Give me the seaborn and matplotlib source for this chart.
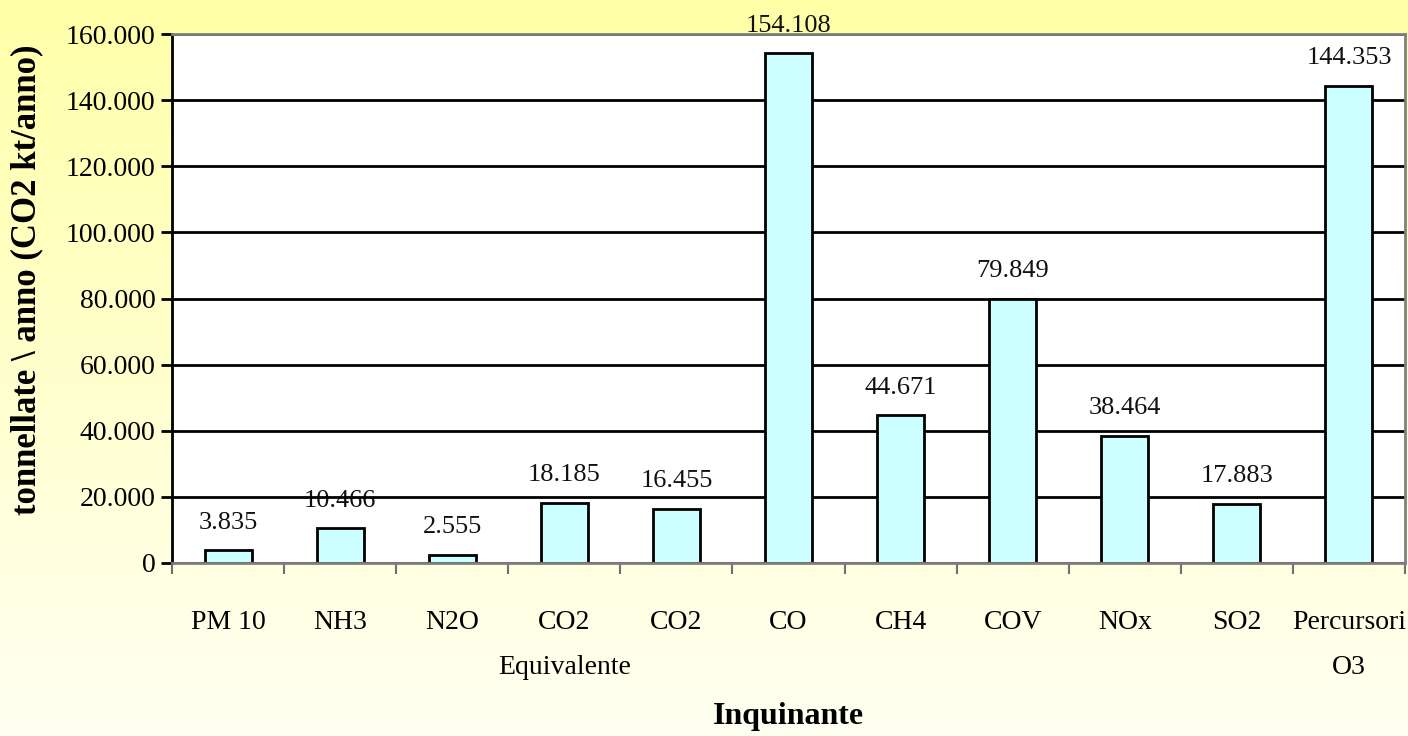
import numpy as np
import pandas as pd
import matplotlib
matplotlib.use("Agg")
import matplotlib.pyplot as plt
import seaborn as sns

categories = ["PM 10", "NH3", "N2O", "CO2\nEquivalente", "CO2", "CO", "CH4",
              "COV", "NOx", "SO2", "Percursori\nO3"]
values = [3835, 10466, 2555, 18185, 16455, 154108, 44671, 79849, 38464, 17883, 144353]
yticks = [0, 20000, 40000, 60000, 80000, 100000, 120000, 140000, 160000]

def fmt(v):
    return f"{v:,}".replace(",", ".")

sns.set_theme(style="white")
plt.rcParams["font.family"] = ["Liberation Serif", "DejaVu Serif"]
plt.rcParams["text.color"] = "black"
plt.rcParams["axes.labelcolor"] = "black"
plt.rcParams["xtick.color"] = "black"
plt.rcParams["ytick.color"] = "black"

fig = plt.figure(figsize=(14.08, 7.36), dpi=100)

# gradient background
bg = fig.add_axes([0, 0, 1, 1], zorder=-10)
grad = np.linspace(0, 1, 256).reshape(-1, 1)
top = np.array([255, 255, 168]) / 255
bot = np.array([255, 255, 242]) / 255
img = top[None, None, :] * (1 - grad[:, :, None]) + bot[None, None, :] * grad[:, :, None]
bg.imshow(img, aspect="auto", extent=[0, 1, 0, 1])
bg.set_axis_off()

ax = fig.add_axes([172 / 1408, 1 - 563 / 736, (1405 - 172) / 1408, (563 - 34) / 736])
ax.set_facecolor("white")

df = pd.DataFrame({"cat": categories, "val": values})
sns.barplot(data=df, x="cat", y="val", order=categories, color="#CCFFFF",
            edgecolor="black", linewidth=2, width=0.42, saturation=1, ax=ax, zorder=2)
for p in ax.patches:
    p.set_facecolor("#CCFFFF")

ax.set_ylim(0, 160000)
ax.set_xlim(-0.5, len(categories) - 0.5)
ax.set_yticks(yticks)
ax.set_yticklabels([fmt(t) for t in yticks], fontsize=20)
ax.set_xticks(range(len(categories)))
ax.set_xticklabels(categories, fontsize=20, linespacing=2.05, va="top")
ax.set_xticks(np.arange(-0.5, len(categories), 1.0), minor=True)
ax.tick_params(axis="x", which="major", length=0, pad=34)
ax.tick_params(axis="x", which="minor", length=8, width=1.5, color="#707070", direction="out", bottom=True)
ax.tick_params(axis="y", which="major", length=8, width=2, color="black", direction="out", left=True, pad=4)

ax.set_axisbelow(True)
ax.grid(axis="y", color="black", linewidth=2)
ax.grid(axis="x", visible=False)

for s in ["top", "right", "bottom"]:
    ax.spines[s].set_color("#808080")
    ax.spines[s].set_linewidth(2)
ax.spines["left"].set_color("black")
ax.spines["left"].set_linewidth(2)

# value labels (behind grid lines, like the original)
for i, v in enumerate(values):
    ax.annotate(fmt(v), xy=(i, v), xytext=(0, 12), textcoords="offset points",
                ha="center", va="bottom", fontsize=19, color="#111111",
                zorder=0.4, annotation_clip=False)

ax.set_xlabel("Inquinante", fontsize=23, fontweight="bold")
ax.xaxis.set_label_coords(0.5, -0.263)
ax.set_ylabel("tonnellate \\ anno (CO2 kt/anno)", fontsize=25, fontweight="bold")
ax.yaxis.set_label_coords(-0.104, 0.535)

fig.savefig("out.png", dpi=100)
